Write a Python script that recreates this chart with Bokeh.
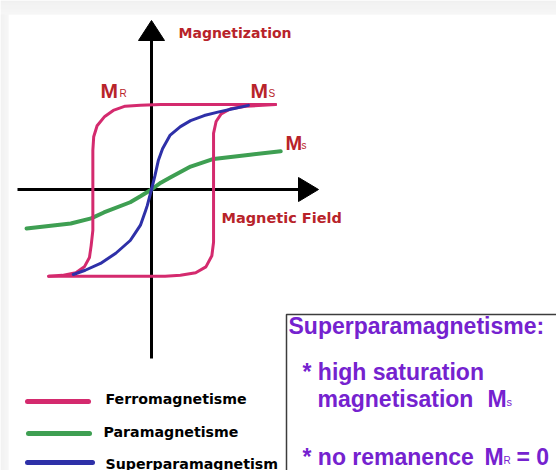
from bokeh.plotting import figure
from bokeh.models import Label, Range1d
from bokeh.embed import file_html
from bokeh.resources import INLINE

# Magnetisation curves in reduced units (M / Ms versus applied field)
series_names = ["Ferromagnetisme", "Paramagnetisme", "Superparamagnetism"]
series_colors = ["#d42a6e", "#3e9f52", "#2e30a8"]

# Ferromagnetic hysteresis loop: ascending branch (left side, then top)
ferro_up_H = [-1.21, -1.05, -0.89, -0.79, -0.73, -0.71, -0.69, -0.69, -0.68, -0.64,
              -0.55, -0.45, -0.31, -0.13, 0.11, 1.46]
ferro_up_M = [-1.02, -1.01, -0.98, -0.91, -0.80, -0.66, -0.48, 0.46, 0.62, 0.75,
              0.86, 0.93, 0.98, 0.99, 1.00, 1.00]
# descending branch (right side, then bottom)
ferro_down_H = [1.46, 1.31, 1.11, 0.93, 0.82, 0.76, 0.73, 0.73, 0.71, 0.64,
                0.52, 0.34, 0.16, -1.21]
ferro_down_M = [1.00, 0.99, 0.98, 0.95, 0.89, 0.80, 0.66, -0.62, -0.78, -0.91,
                -0.98, -1.01, -1.02, -1.02]

# Superparamagnetic curve: no remanence, high saturation
super_H = [-0.92, -0.78, -0.60, -0.42, -0.25, -0.19, -0.13, -0.07, -0.05, 0.0,
           0.04, 0.08, 0.13, 0.22, 0.34, 0.46, 0.62, 0.78, 0.96, 1.14]
super_M = [-1.00, -0.95, -0.87, -0.75, -0.60, -0.51, -0.42, -0.25, -0.19, 0.0,
           0.16, 0.34, 0.48, 0.64, 0.74, 0.81, 0.87, 0.91, 0.95, 0.99]

# Paramagnetic curve: weak, slowly saturating response
para_H = [-1.47, -0.95, -0.71, -0.56, -0.25, -0.13, 0.0, 0.11, 0.22, 0.46,
          0.73, 1.16, 1.52]
para_M = [-0.46, -0.40, -0.34, -0.27, -0.15, -0.08, 0.0, 0.08, 0.14, 0.27,
          0.36, 0.41, 0.45]

W, H = 556, 470
UNIT = 85.0          # pixels per reduced unit
OX, OY = 151, 189    # pixel position of the origin


def dx(px):
    return (px - OX) / UNIT


def dy(py):
    return (OY - py) / UNIT


p = figure(width=W, height=H, output_backend="svg", toolbar_location=None,
           x_range=Range1d(dx(0), dx(W)), y_range=Range1d(dy(H), dy(0)),
           x_axis_type=None, y_axis_type=None, min_border=0)
p.grid.visible = False
p.outline_line_color = None
p.background_fill_color = "white"
p.border_fill_color = "white"

# soft page shadow along the top and left edges
for i in range(14):
    g = int(236 + i * 0.6)
    p.quad(left=dx(0), right=dx(W), top=dy(i), bottom=dy(i + 1),
           fill_color=(g, g, g), line_color=None)
for i in range(8):
    g = int(238 + i * 0.8)
    p.quad(left=dx(i), right=dx(i + 1), top=dy(14), bottom=dy(H),
           fill_color=(g, g, g), line_color=None)

# axes with arrow heads
p.line([dx(OX), dx(OX)], [dy(358), dy(38)], line_color="black", line_width=3)
p.patch([dx(138), dx(164), dx(151)], [dy(40), dy(40), dy(20)], color="black")
p.line([dx(17), dx(300)], [dy(OY), dy(OY)], line_color="black", line_width=3)
p.patch([dx(298), dx(298), dx(318)], [dy(177), dy(201), dy(OY)], color="black")

# curves
p.line(para_H, para_M, line_color=series_colors[1], line_width=4,
       line_join="round", line_cap="round")
p.line(ferro_up_H, ferro_up_M, line_color=series_colors[0], line_width=3,
       line_join="round", line_cap="round")
p.line(ferro_down_H, ferro_down_M, line_color=series_colors[0], line_width=3,
       line_join="round", line_cap="round")
p.line(super_H, super_M, line_color=series_colors[2], line_width=3,
       line_join="round", line_cap="round")

RED = "#b8232a"
PURPLE = "#7522cf"


def label(px, py, text, size, color, font="DejaVu Sans", style="bold"):
    # py is the intended baseline; lift the anchor so glyphs sit on it
    base = py - (0.3 * size + 2)
    p.add_layout(Label(x=dx(px), y=dy(base), text=text, text_font=font,
                       text_font_size=f"{size}px", text_font_style=style,
                       text_color=color, text_baseline="alphabetic"))


label(178, 39, "Magnetization", 14, RED)
label(221, 224, "Magnetic Field", 14.5, RED)

# Mr / Ms annotations
label(100, 98, "M", 21, RED, "Liberation Sans")
label(119, 98, "R", 10, RED, "Liberation Sans", "normal")
label(250, 98, "M", 21, RED, "Liberation Sans")
label(268, 98, "S", 10, RED, "Liberation Sans", "normal")
label(285, 150, "M", 20, RED, "Liberation Sans")
label(301, 150, "s", 10, RED, "Liberation Sans", "normal")

# legend
legend_rows = [(401, 405, 27, 88, 105), (433, 438, 28, 89, 103), (462, 470, 27, 92, 105)]
for name, color, (ly, ty, x0, x1, tx) in zip(series_names, series_colors, legend_rows):
    p.line([dx(x0), dx(x1)], [dy(ly), dy(ly)], line_color=color, line_width=5,
           line_cap="round")
    label(tx, ty, name, 14.2, "black")

# description box
p.line([dx(286), dx(286), dx(W + 5)], [dy(H + 5), dy(314), dy(314)],
       line_color="#3c3c3c", line_width=1.5)
label(288, 334, "Superparamagnetisme:", 23, PURPLE, "Liberation Sans")
label(302, 380, "* high saturation", 23, PURPLE, "Liberation Sans")
label(317, 407, "magnetisation", 23, PURPLE, "Liberation Sans")
label(487, 407, "M", 23, PURPLE, "Liberation Sans")
label(506, 407, "s", 11, PURPLE, "Liberation Sans", "normal")
label(302, 465, "* no remanence", 23, PURPLE, "Liberation Sans")
label(484, 465, "M", 23, PURPLE, "Liberation Sans")
label(503, 465, "R", 10, PURPLE, "Liberation Sans", "normal")
label(516, 465, "= 0", 23, PURPLE, "Liberation Sans")

with open("out.html", "w") as f:
    f.write(file_html(p, INLINE))
